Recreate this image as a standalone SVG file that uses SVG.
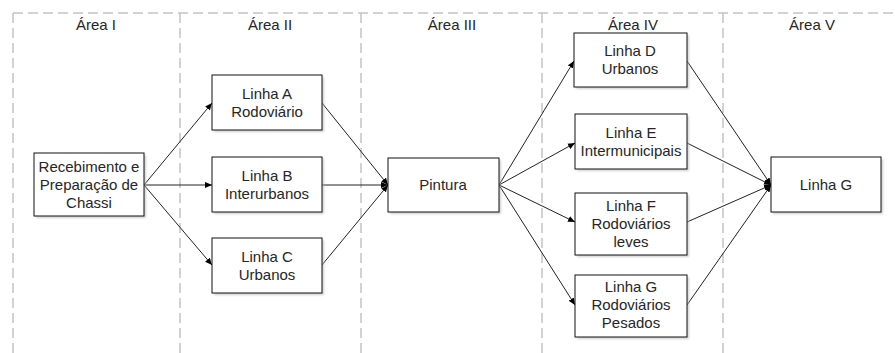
<svg xmlns="http://www.w3.org/2000/svg" width="895" height="353" viewBox="0 0 895 353">
<style>
.lane{stroke:#c4c4c4;stroke-width:1.5;stroke-dasharray:10,5;fill:none}
.lbl{font-family:"Liberation Sans",Arial,sans-serif;font-size:15px;fill:#262626;text-anchor:middle}
.box{fill:#fff;stroke:#111;stroke-width:1}
.shadow{fill:#b0b0b0;opacity:0.6}
.c{stroke:#222;stroke-width:1;fill:none;marker-end:url(#ah)}
</style>
<defs>
<marker id="ah" viewBox="0 0 8 8" refX="8" refY="4" markerWidth="7" markerHeight="7" markerUnits="userSpaceOnUse" orient="auto">
<path d="M0,0.5 L8,4 L0,7.5 z" fill="#000"/>
</marker>
<filter id="sh" x="-10%" y="-10%" width="130%" height="140%">
<feGaussianBlur stdDeviation="1.2"/>
</filter>
</defs>
<rect width="895" height="353" fill="#fff"/>
<g id="lanes">
<line class="lane" x1="13" y1="13" x2="895" y2="13"/>
<line class="lane" x1="13" y1="13" x2="13" y2="353"/>
<line class="lane" x1="180" y1="13" x2="180" y2="353"/>
<line class="lane" x1="361" y1="13" x2="361" y2="353"/>
<line class="lane" x1="542" y1="13" x2="542" y2="353"/>
<line class="lane" x1="723" y1="13" x2="723" y2="353"/>
<text class="lbl" x="96" y="30">Área I</text>
<text class="lbl" x="270" y="30">Área II</text>
<text class="lbl" x="452" y="30">Área III</text>
<text class="lbl" x="633" y="30">Área IV</text>
<text class="lbl" x="812" y="30">Área V</text>
</g>
<g id="connectors">
<line class="c" x1="144" y1="185" x2="212" y2="103"/>
<line class="c" x1="144" y1="185" x2="212" y2="185"/>
<line class="c" x1="144" y1="185" x2="212" y2="265"/>
<line class="c" x1="322" y1="103" x2="388" y2="185"/>
<line class="c" x1="322" y1="185" x2="388" y2="185"/>
<line class="c" x1="322" y1="265" x2="388" y2="185"/>
<line class="c" x1="499" y1="185" x2="574" y2="61"/>
<line class="c" x1="499" y1="185" x2="575" y2="143"/>
<line class="c" x1="499" y1="185" x2="575" y2="222"/>
<line class="c" x1="499" y1="185" x2="575" y2="305"/>
<line class="c" x1="687" y1="61" x2="771" y2="185"/>
<line class="c" x1="687" y1="143" x2="771" y2="185"/>
<line class="c" x1="687" y1="222" x2="771" y2="185"/>
<line class="c" x1="687" y1="305" x2="771" y2="185"/>
</g>
<g id="n-receb">
<rect class="shadow" x="36" y="155" width="110" height="63" filter="url(#sh)"/>
<rect class="box" x="34" y="153" width="110" height="63"/>
<text class="lbl" x="89" y="171.5">Recebimento e</text>
<text class="lbl" x="89" y="189.5">Preparação de</text>
<text class="lbl" x="89" y="207.5">Chassi</text>
</g>
<g id="n-linhaA">
<rect class="shadow" x="214" y="77" width="110" height="55" filter="url(#sh)"/>
<rect class="box" x="212" y="75" width="110" height="55"/>
<text class="lbl" x="267" y="98.5">Linha A</text>
<text class="lbl" x="267" y="116.5">Rodoviário</text>
</g>
<g id="n-linhaB">
<rect class="shadow" x="214" y="159" width="110" height="55" filter="url(#sh)"/>
<rect class="box" x="212" y="157" width="110" height="55"/>
<text class="lbl" x="267" y="180.5">Linha B</text>
<text class="lbl" x="267" y="198.5">Interurbanos</text>
</g>
<g id="n-linhaC">
<rect class="shadow" x="214" y="240" width="110" height="55" filter="url(#sh)"/>
<rect class="box" x="212" y="238" width="110" height="55"/>
<text class="lbl" x="267" y="261.5">Linha C</text>
<text class="lbl" x="267" y="279.5">Urbanos</text>
</g>
<g id="n-pintura">
<rect class="shadow" x="390" y="160" width="111" height="54" filter="url(#sh)"/>
<rect class="box" x="388" y="158" width="111" height="54"/>
<text class="lbl" x="443" y="190">Pintura</text>
</g>
<g id="n-linhaD">
<rect class="shadow" x="576" y="35" width="113" height="54" filter="url(#sh)"/>
<rect class="box" x="574" y="33" width="113" height="54"/>
<text class="lbl" x="630" y="56">Linha D</text>
<text class="lbl" x="630" y="74">Urbanos</text>
</g>
<g id="n-linhaE">
<rect class="shadow" x="577" y="116" width="112" height="55" filter="url(#sh)"/>
<rect class="box" x="575" y="114" width="112" height="55"/>
<text class="lbl" x="631" y="137.5">Linha E</text>
<text class="lbl" x="631" y="155.5">Intermunicipais</text>
</g>
<g id="n-linhaF">
<rect class="shadow" x="577" y="195" width="112" height="62" filter="url(#sh)"/>
<rect class="box" x="575" y="193" width="112" height="62"/>
<text class="lbl" x="631" y="211">Linha F</text>
<text class="lbl" x="631" y="229">Rodoviários</text>
<text class="lbl" x="631" y="247">leves</text>
</g>
<g id="n-linhaGP">
<rect class="shadow" x="577" y="277" width="112" height="62" filter="url(#sh)"/>
<rect class="box" x="575" y="275" width="112" height="62"/>
<text class="lbl" x="631" y="292">Linha G</text>
<text class="lbl" x="631" y="310">Rodoviários</text>
<text class="lbl" x="631" y="328">Pesados</text>
</g>
<g id="n-linhaG">
<rect class="shadow" x="773" y="159" width="110" height="55" filter="url(#sh)"/>
<rect class="box" x="771" y="157" width="110" height="55"/>
<text class="lbl" x="826" y="190">Linha G</text>
</g>
</svg>
